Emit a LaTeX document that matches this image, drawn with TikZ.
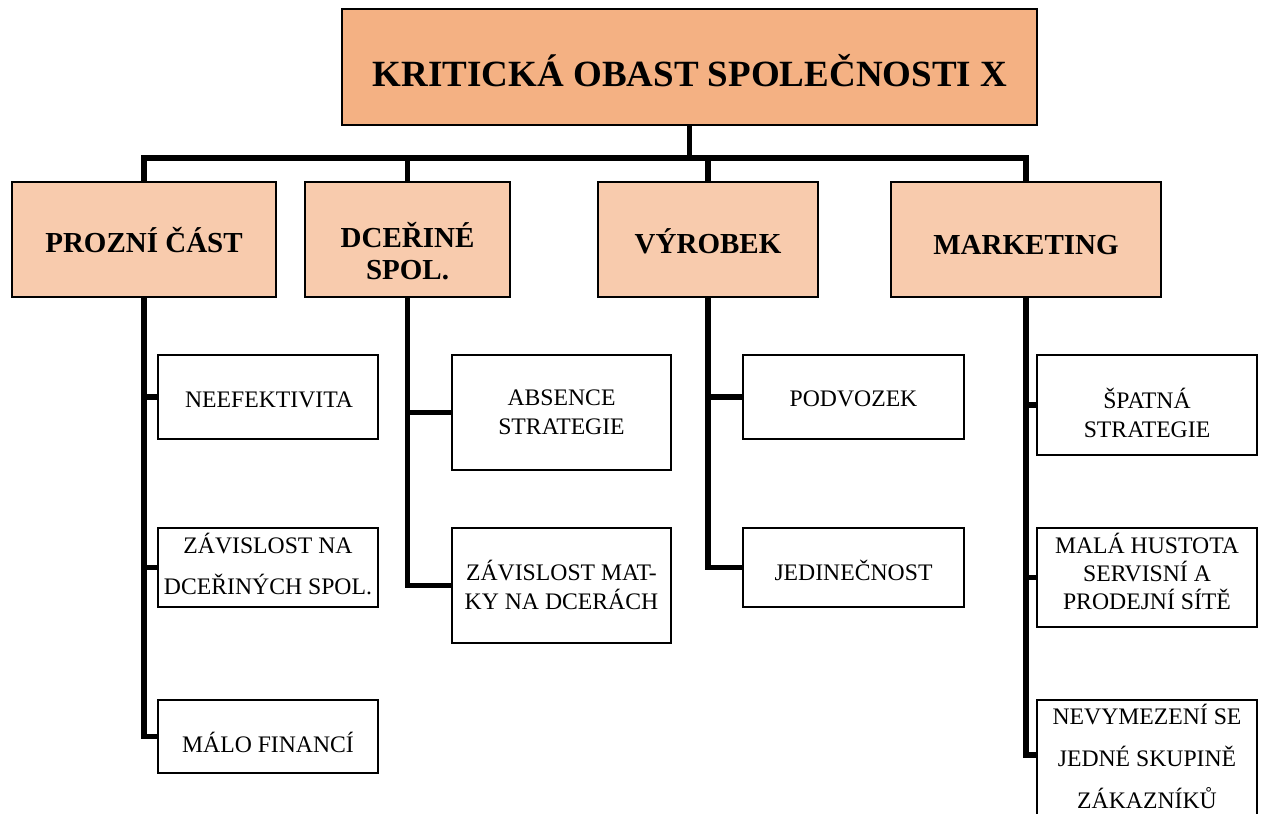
\documentclass[tikz,border=0pt]{standalone}
\usepackage{fontspec}
\setmainfont{Liberation Serif}
\definecolor{topfill}{HTML}{F4B183}
\definecolor{midfill}{HTML}{F8CBAD}
\newcommand\lstr{\rule[-0.25em]{0pt}{1em}}
\begin{document}
\begin{tikzpicture}[x=1pt,y=-1pt,
  conn/.style={draw=black, line width=5.5pt, line join=miter},
  topbox/.style={draw=black, line width=1.3pt, fill=topfill, inner sep=0pt},
  midbox/.style={draw=black, line width=1.3pt, fill=midfill, inner sep=0pt},
  leafbox/.style={draw=black, line width=1.3pt, fill=white, inner sep=0pt},
  toptxt/.style={inner sep=0pt, anchor=north, font=\bfseries\fontsize{37}{44}\selectfont},
  midtxt/.style={inner sep=0pt, anchor=north, align=center, font=\bfseries\fontsize{29}{32}\selectfont},
  leaftxt/.style={inner sep=0pt, anchor=north, align=center, font=\fontsize{23.7}{29}\selectfont},
  widetxt/.style={leaftxt, font=\fontsize{23.7}{41}\selectfont}]
\useasboundingbox (0,0) rectangle (1264,814);
\begin{scope}
\clip (0,0) rectangle (1264,814);
% top
\node[topbox, minimum width=695pt, minimum height=116pt] (T) at (689.5,67) {};
\node[toptxt] (Tt) at (690,54.3) {\lstr KRITICKÁ OBAST SPOLEČNOSTI X};
% level 2
\node[midbox, minimum width=264pt, minimum height=115pt] (P1) at (144,239.5) {};
\node[midbox, minimum width=205pt, minimum height=115pt] (P2) at (407.5,239.5) {};
\node[midbox, minimum width=220pt, minimum height=115pt] (P3) at (708,239.5) {};
\node[midbox, minimum width=270pt, minimum height=115pt] (P4) at (1026,239.5) {};
\node[midtxt] (P1t) at (144,227) {\lstr PROZNÍ ČÁST\lstr};
\node[midtxt] (P2t) at (407.5,222.6) {\lstr DCEŘINÉ\\SPOL.\lstr};
\node[midtxt] (P3t) at (708,228) {\lstr VÝROBEK\lstr};
\node[midtxt] (P4t) at (1026,232.6) {\lstr MARKETING\lstr};
% level 3
\node[leafbox, minimum width=220pt, minimum height=84pt] (A1) at (268,397) {};
\node[leafbox, minimum width=220pt, minimum height=79pt] (A2) at (268,567.5) {};
\node[leafbox, minimum width=220pt, minimum height=73pt] (A3) at (268,736.5) {};
\node[leafbox, minimum width=219pt, minimum height=115pt] (B1) at (561.5,412.5) {};
\node[leafbox, minimum width=219pt, minimum height=115pt] (B2) at (561.5,585.5) {};
\node[leafbox, minimum width=221pt, minimum height=84pt] (C1) at (853.5,397) {};
\node[leafbox, minimum width=221pt, minimum height=79pt] (C2) at (853.5,567.5) {};
\node[leafbox, minimum width=220pt, minimum height=100pt] (D1) at (1147,405) {};
\node[leafbox, minimum width=220pt, minimum height=99pt] (D2) at (1147,577.5) {};
\node[leafbox, minimum width=220pt, minimum height=130pt] (D3) at (1147,765) {};
\node[leaftxt] (A1t) at (269,390) {\lstr NEEFEKTIVITA\lstr};
\node[widetxt] (A2t) at (268,533) {\lstr ZÁVISLOST NA\\DCEŘINÝCH SPOL.\lstr};
\node[leaftxt] (A3t) at (268,732) {\lstr MÁLO FINANCÍ\lstr};
\node[leaftxt] (B1t) at (561.5,388) {\lstr ABSENCE\\STRATEGIE\lstr};
\node[leaftxt] (B2t) at (561.5,560) {\lstr ZÁVISLOST MAT-\\KY NA DCERÁCH\lstr};
\node[leaftxt] (C1t) at (853.5,389) {\lstr PODVOZEK\lstr};
\node[leaftxt] (C2t) at (853.5,560) {\lstr JEDINEČNOST\lstr};
\node[leaftxt] (D1t) at (1147,388) {\lstr ŠPATNÁ\\STRATEGIE\lstr};
\node[leaftxt, font=\fontsize{23.7}{28}\selectfont] (D2t) at (1147,533) {\lstr MALÁ HUSTOTA\\SERVISNÍ A\\PRODEJNÍ SÍTĚ\lstr};
\node[widetxt, font=\fontsize{23.7}{42}\selectfont] (D3t) at (1147,704) {\lstr NEVYMEZENÍ SE\\JEDNÉ SKUPINĚ\\ZÁKAZNÍKŮ\lstr};
\end{scope}
% connectors
\coordinate (bus) at (0,158);
\draw[conn] (T.south) -- (T.south |- bus);
\draw[conn] (P1.north) -- (P1.north |- bus) -- (P4.north |- bus) -- (P4.north);
\draw[conn] (P2.north |- bus) -- (P2.north);
\draw[conn] (P3.north |- bus) -- (P3.north);
\draw[conn] (P1.south) |- (A3.west);
\draw[conn] (P1.south |- A1.west) -- (A1.west);
\draw[conn] (P1.south |- A2.west) -- (A2.west);
\draw[conn] (P2.south) |- (B2.west);
\draw[conn] (P2.south |- B1.west) -- (B1.west);
\draw[conn] (P3.south) |- (C2.west);
\draw[conn] (P3.south |- C1.west) -- (C1.west);
\draw[conn] (P4.south) |- ([yshift=10pt]D3.west);
\draw[conn] (P4.south |- D1.west) -- (D1.west);
\draw[conn] (P4.south |- D2.west) -- (D2.west);
\end{tikzpicture}
\end{document}
